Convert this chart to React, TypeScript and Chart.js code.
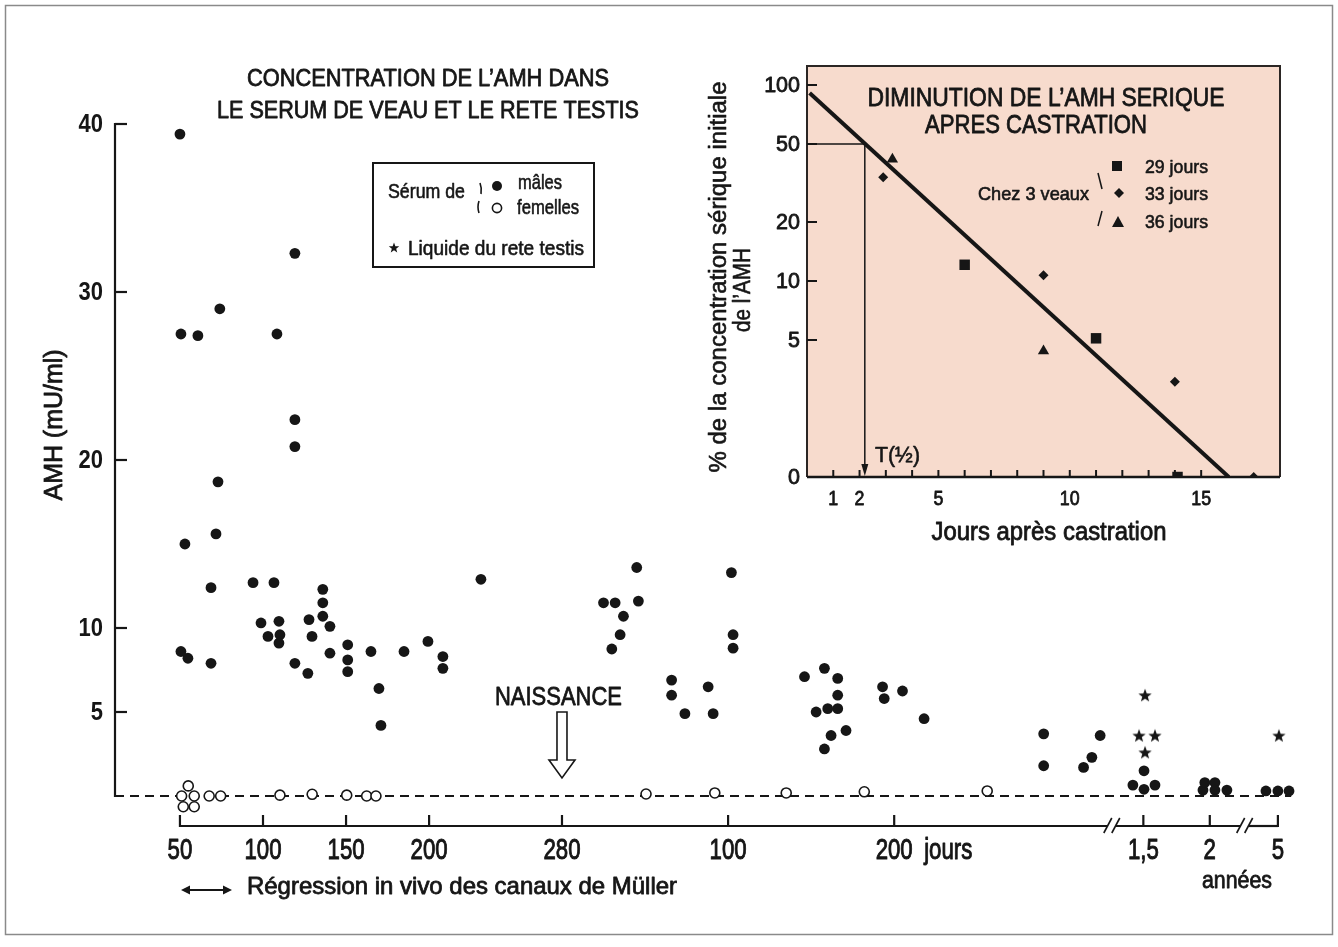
import React, { useEffect, useRef } from 'react';
import { Chart, registerables } from 'chart.js';

Chart.register(...registerables);

const INK = '#161616';
const FONT = '"Liberation Sans", Arial, Helvetica, sans-serif';

// ---------------- main chart data ----------------
const GESTATION_DAYS = 280;
// male foetal serum: [gestational day, AMH mU/ml]
const fetalMale: [number, number][] = [
  [50, 39.4], [50.6, 27.5], [60.8, 27.4], [74, 29.0], [108.4, 27.5], [119.2, 32.3], [119.2, 22.4],
  [119.2, 20.8], [72.9, 18.7], [71.7, 15.6], [53, 15.0], [68.7, 12.4], [50.6, 8.6], [54.8, 8.2],
  [68.7, 7.9], [94, 12.7], [98.8, 10.3], [103, 9.5], [106.6, 12.7], [109.6, 10.4], [110.2, 9.6],
  [109.6, 9.1], [119.2, 7.9], [127.7, 10.5], [129.5, 9.5], [127, 7.3], [136, 12.3], [136, 11.5],
  [136, 10.7], [140.3, 10.1], [140.3, 8.5], [151, 9.0], [151, 8.1], [151, 7.4], [165, 8.6],
  [169.8, 6.4], [171, 4.2], [184.9, 8.6], [199.3, 9.2], [208.3, 8.3], [208.3, 7.6], [231.2, 12.9],
];
// male calves: [postnatal day, AMH]
const calfMale: [number, number][] = [
  [25, 11.5], [32, 11.5], [45, 13.6], [46, 11.6], [37, 10.7], [35, 9.6], [30, 8.75], [66, 6.9],
  [66, 6.0], [74, 4.9], [88, 6.5], [91, 4.9], [102, 13.3], [103, 9.6], [103, 8.8], [146, 7.1],
  [158, 7.6], [166, 7.0], [166, 6.0], [166, 5.2], [160, 5.2], [153, 5.0], [162, 3.6], [158, 2.8],
  [171, 3.9], [193, 6.5], [194, 5.8], [205, 6.25], [218, 4.6], [290, 3.7], [290, 1.8], [314, 1.7],
  [319, 2.3], [324, 3.6],
];
// adult males, beyond the axis break: [axis position, AMH]
const adultMale: [number, number][] = [
  [630.4, 1.5], [623.7, 0.65], [630.4, 0.4], [637, 0.65], [665.9, 0.35], [667, 0.8], [673.1, 0.8],
  [673.1, 0.35], [680.3, 0.35], [703.8, 0.3], [711, 0.3], [717.7, 0.3],
];
// rete testis fluid: [axis position, AMH]
const reteTestis: [number, number][] = [[631, 6.0], [627.4, 3.6], [637, 3.6], [631, 2.6], [711.6, 3.6]];
// female foetal serum: [gestational day, AMH]
const fetalFemale: [number, number][] = [
  [55, 0.6], [51, 0], [58.6, 0], [52, -0.64], [58.6, -0.64], [67.6, 0], [74.5, 0], [110.2, 0.05],
  [129.6, 0.1], [150.4, 0.05], [162.4, 0], [168, 0],
];
// female calves: [postnatal day, AMH]
const calfFemale: [number, number][] = [[50.6, 0.12], [92, 0.18], [135, 0.18], [182, 0.25], [256, 0.3]];

const yTicks = [5, 10, 20, 30, 40];
const xTickValues = [50, 100, 150, 200, 280, 380, 480, 630, 670, 711];
const xTickLabels = ['50', '100', '150', '200', '280', '100', '200', '1,5', '2', '5'];
const xBreaks = [611, 691];

// ---------------- inset data ----------------
const calf29: [number, number][] = [[6, 12.1], [11, 5.1], [14.1, 1]];
const calf33: [number, number][] = [[2.9, 33.8], [9, 10.7], [14, 3.06], [17, 1]];
const calf36: [number, number][] = [[3.25, 41.8], [9, 4.4]];
const regression: [number, number][] = [[0.1, 91], [16.05, 1]];
const halfLife: [number, number][] = [[0, 50], [2.2, 50], [2.2, 1.06]];
const insetXTicks = [1, 2, 5, 10, 15];
const insetYTicks = [1, 5, 10, 20, 50, 100];
const insetYLabels = ['0', '5', '10', '20', '50', '100'];

const W = 1338;
const H = 947;
const INSET = { left: 680, top: 50, width: 620, height: 510 };

const pts = (a: [number, number][], dx = 0) => a.map(([x, y]) => ({ x: x + dx, y }));

function starPath(ctx: CanvasRenderingContext2D, cx: number, cy: number, R: number, r: number) {
  ctx.beginPath();
  for (let i = 0; i < 10; i++) {
    const rr = i % 2 === 0 ? R : r;
    const a = -Math.PI / 2 + (i * Math.PI) / 5;
    const px = cx + rr * Math.cos(a);
    const py = cy + rr * Math.sin(a);
    if (i === 0) ctx.moveTo(px, py);
    else ctx.lineTo(px, py);
  }
  ctx.closePath();
}

type TOpts = {
  w?: number; sx?: number; align?: 'left' | 'center' | 'right'; bold?: boolean;
  baseline?: CanvasTextBaseline; thick?: number;
};

// text drawn in a Helvetica-like face, condensed horizontally to match the original lettering
function ftext(ctx: CanvasRenderingContext2D, s: string, x: number, y: number, size: number, o: TOpts = {}) {
  ctx.save();
  ctx.font = `${o.bold ? 'bold ' : ''}${size}px ${FONT}`;
  ctx.textAlign = 'left';
  ctx.textBaseline = o.baseline ?? 'alphabetic';
  const nat = ctx.measureText(s).width;
  const sx = o.w ? o.w / nat : o.sx ?? 1;
  const width = nat * sx;
  const left = o.align === 'center' ? x - width / 2 : o.align === 'right' ? x - width : x;
  ctx.translate(left, y);
  ctx.scale(sx, 1);
  ctx.fillStyle = INK;
  ctx.fillText(s, 0, 0);
  const thick = o.thick ?? 0.6;
  if (thick > 0) {
    ctx.strokeStyle = INK;
    ctx.lineWidth = thick;
    ctx.lineJoin = 'round';
    ctx.strokeText(s, 0, 0);
  }
  ctx.restore();
}

function seg(ctx: CanvasRenderingContext2D, x1: number, y1: number, x2: number, y2: number) {
  ctx.beginPath();
  ctx.moveTo(x1, y1);
  ctx.lineTo(x2, y2);
  ctx.stroke();
}

const mainDeco = {
  id: 'mainDeco',
  afterDraw(chart: any) {
    const { ctx, chartArea: ca } = chart;
    const xs = chart.scales.x;
    const ys = chart.scales.y;
    ctx.save();
    ctx.strokeStyle = INK;
    ctx.fillStyle = INK;
    ctx.lineWidth = 2.2;

    // y axis with inward ticks and labels
    const ax = ca.left;
    seg(ctx, ax, ys.getPixelForValue(40) - 1, ax, ys.getPixelForValue(0) + 1);
    ys.ticks.forEach((t: any) => {
      const py = ys.getPixelForValue(t.value);
      seg(ctx, ax, py, ax + 12, py);
      ftext(ctx, String(t.value), ax - 12, py + 1, 25, { bold: true, sx: 0.88, align: 'right', baseline: 'middle', thick: 0 });
    });

    // x axis with breaks, upward ticks and labels
    const by = ca.bottom;
    const xStart = xs.getPixelForValue(xTickValues[0]);
    const xEnd = xs.getPixelForValue(xTickValues[xTickValues.length - 1]);
    const gaps = xBreaks.map((b) => xs.getPixelForValue(b));
    let cur = xStart;
    gaps.forEach((g) => {
      seg(ctx, cur, by, g - 4, by);
      cur = g + 4;
    });
    seg(ctx, cur, by, xEnd, by);
    xs.ticks.forEach((t: any, i: number) => {
      const px = xs.getPixelForValue(t.value);
      seg(ctx, px, by + 1, px, by - 11);
      ftext(ctx, xTickLabels[i], px, 859, 30, { sx: 0.74, align: 'center', thick: 1 });
    });
    ctx.lineWidth = 1.6;
    gaps.forEach((g) => {
      [-4, 4].forEach((o) => seg(ctx, g + o - 4, by + 7, g + o + 4, by - 8));
    });
    ftext(ctx, 'jours', xs.getPixelForValue(480) + 30, 859, 30, { sx: 0.74, thick: 1 });
    ftext(ctx, 'années', 1237, 888, 23, { w: 70, align: 'center', thick: 0.8 });

    // regression note
    ctx.lineWidth = 2;
    const ay = 890;
    seg(ctx, 186, ay, 227, ay);
    ctx.beginPath();
    ctx.moveTo(181, ay); ctx.lineTo(190, ay - 4.5); ctx.lineTo(190, ay + 4.5); ctx.closePath(); ctx.fill();
    ctx.beginPath();
    ctx.moveTo(232, ay); ctx.lineTo(223, ay - 4.5); ctx.lineTo(223, ay + 4.5); ctx.closePath(); ctx.fill();
    ftext(ctx, 'Régression in vivo des canaux de Müller', 247, 894, 24, { w: 430, thick: 0.8 });

    // title
    ftext(ctx, 'CONCENTRATION DE L’AMH DANS', 428, 86, 24.5, { w: 362, align: 'center', thick: 0.8 });
    ftext(ctx, 'LE SERUM DE VEAU ET LE RETE TESTIS', 428, 118, 24.5, { w: 422, align: 'center', thick: 0.8 });

    // y title
    ctx.save();
    ctx.translate(55, 425);
    ctx.rotate(-Math.PI / 2);
    ftext(ctx, 'AMH (mU/ml)', 0, 0, 25, { w: 151, align: 'center', baseline: 'middle', thick: 0.8 });
    ctx.restore();

    // legend box
    ctx.lineWidth = 2;
    ctx.strokeRect(373, 163, 221, 104);
    ftext(ctx, 'Sérum de', 388, 198, 21, { w: 77 });
    ctx.lineWidth = 1.6;
    ctx.beginPath(); ctx.moveTo(480, 183); ctx.quadraticCurveTo(482, 188, 481, 194); ctx.stroke();
    ctx.beginPath(); ctx.moveTo(479, 201); ctx.quadraticCurveTo(477, 207, 479, 213); ctx.stroke();
    ctx.beginPath(); ctx.arc(497, 186, 5, 0, Math.PI * 2); ctx.fill();
    ctx.beginPath(); ctx.arc(497, 208, 4.6, 0, Math.PI * 2); ctx.stroke();
    ftext(ctx, 'mâles', 518, 189, 21, { w: 44 });
    ftext(ctx, 'femelles', 517, 214, 21, { w: 62 });
    starPath(ctx, 394, 248, 5.5, 2.3);
    ctx.fill();
    ftext(ctx, 'Liquide du rete testis', 408, 255, 21, { w: 176 });

    // birth marker
    const bx = xs.getPixelForValue(GESTATION_DAYS);
    ftext(ctx, 'NAISSANCE', bx - 3.5, 705, 26.5, { w: 127, align: 'center', thick: 0.8 });
    ctx.fillStyle = '#ffffff';
    ctx.strokeStyle = INK;
    ctx.lineWidth = 1.6;
    ctx.beginPath();
    ctx.moveTo(bx - 5, 712); ctx.lineTo(bx + 5, 712); ctx.lineTo(bx + 5, 760); ctx.lineTo(bx + 13, 760);
    ctx.lineTo(bx, 778); ctx.lineTo(bx - 13, 760); ctx.lineTo(bx - 5, 760); ctx.closePath();
    ctx.fill(); ctx.stroke();

    // outer frame
    ctx.strokeStyle = '#8a8a8a';
    ctx.lineWidth = 1.5;
    ctx.strokeRect(5.5, 5.5, 1327, 929);
    ctx.restore();
  },
};

const insetDeco = {
  id: 'insetDeco',
  beforeDraw(chart: any) {
    const { ctx, chartArea: ca } = chart;
    ctx.save();
    ctx.fillStyle = '#f7dbcd';
    ctx.fillRect(ca.left, ca.top, ca.right - ca.left, ca.bottom - ca.top);
    ctx.restore();
  },
  afterDraw(chart: any) {
    const { ctx, chartArea: ca } = chart;
    const xs = chart.scales.x;
    const ys = chart.scales.y;
    ctx.save();
    ctx.strokeStyle = '#2b2624';
    ctx.lineWidth = 2;
    ctx.beginPath();
    ctx.moveTo(ca.left, ca.bottom); ctx.lineTo(ca.left, ca.top); ctx.lineTo(ca.right, ca.top); ctx.lineTo(ca.right, ca.bottom);
    ctx.stroke();
    ctx.strokeStyle = INK;
    ctx.fillStyle = INK;
    ctx.lineWidth = 2.5;
    seg(ctx, ca.left, ca.bottom, ca.right, ca.bottom);
    ctx.lineWidth = 2;
    for (let d = 1; d <= 15; d++) {
      const px = xs.getPixelForValue(d);
      seg(ctx, px, ca.bottom, px, ca.bottom - 7);
    }
    xs.ticks.forEach((t: any) => {
      ftext(ctx, String(t.value), xs.getPixelForValue(t.value), ca.bottom + 28, 21, { sx: 0.85, align: 'center', thick: 0.8 });
    });
    ys.ticks.forEach((t: any, i: number) => {
      const py = ys.getPixelForValue(t.value);
      if (i > 0) seg(ctx, ca.left, py, ca.left + 10, py);
      ftext(ctx, insetYLabels[i], ca.left - 7, py + 1, 21.5, { align: 'right', baseline: 'middle', thick: 0.8 });
    });

    // arrow head on the half-life line
    const hx = xs.getPixelForValue(halfLife[1][0]);
    ctx.beginPath();
    ctx.moveTo(hx, ca.bottom - 1); ctx.lineTo(hx - 3.5, ca.bottom - 13); ctx.lineTo(hx + 3.5, ca.bottom - 13); ctx.closePath();
    ctx.fill();

    // page coordinates from here
    ctx.translate(-INSET.left, -INSET.top);
    ftext(ctx, 'T(½)', 875, 462, 22, { w: 45 });
    ftext(ctx, 'DIMINUTION DE L’AMH SERIQUE', 1046, 106, 26.5, { w: 357, align: 'center', thick: 0.8 });
    ftext(ctx, 'APRES CASTRATION', 1036, 133, 26.5, { w: 222, align: 'center', thick: 0.8 });
    ftext(ctx, 'Jours après castration', 1049, 540, 25, { w: 235, align: 'center', thick: 0.8 });

    // legend
    ctx.fillRect(1112, 161, 10, 10);
    ctx.beginPath();
    ctx.moveTo(1119, 188); ctx.lineTo(1124, 193); ctx.lineTo(1119, 198); ctx.lineTo(1114, 193); ctx.closePath(); ctx.fill();
    ctx.beginPath();
    ctx.moveTo(1118, 216); ctx.lineTo(1124, 227); ctx.lineTo(1112, 227); ctx.closePath(); ctx.fill();
    ftext(ctx, '29 jours', 1145, 173, 19, { w: 63 });
    ftext(ctx, '33 jours', 1145, 200, 19, { w: 63 });
    ftext(ctx, '36 jours', 1145, 228, 19, { w: 63 });
    ftext(ctx, 'Chez 3 veaux', 1089, 200, 19, { w: 111, align: 'right' });
    ctx.lineWidth = 1.5;
    seg(ctx, 1098, 173, 1102, 189);
    seg(ctx, 1102, 211, 1098, 226);

    // y title (two rotated lines)
    ctx.save();
    ctx.translate(720, 277);
    ctx.rotate(-Math.PI / 2);
    ftext(ctx, '% de la concentration sérique initiale', 0, 0, 23, { w: 391, align: 'center', baseline: 'middle' });
    ctx.restore();
    ctx.save();
    ctx.translate(744, 290);
    ctx.rotate(-Math.PI / 2);
    ftext(ctx, 'de l’AMH', 0, 0, 23, { sx: 0.9, align: 'center', baseline: 'middle' });
    ctx.restore();
    ctx.restore();
  },
};

export default function App() {
  const mainRef = useRef<HTMLCanvasElement>(null);
  const insetRef = useRef<HTMLCanvasElement>(null);

  useEffect(() => {
    const star = document.createElement('canvas');
    star.width = 16;
    star.height = 16;
    const sctx = star.getContext('2d')!;
    sctx.fillStyle = INK;
    starPath(sctx, 8, 8.6, 7, 2.9);
    sctx.fill();

    const hidden = { display: false };
    const main = new Chart(mainRef.current!, {
      type: 'scatter',
      data: {
        datasets: [
          {
            type: 'line',
            data: [{ x: 10.9, y: 0 }, { x: 719, y: 0 }],
            borderColor: INK,
            borderWidth: 2,
            borderDash: [9, 6],
            pointRadius: 0,
            order: 5,
          } as any,
          {
            data: [...pts(fetalFemale), ...pts(calfFemale, GESTATION_DAYS)],
            pointStyle: 'circle',
            pointRadius: 5,
            backgroundColor: '#ffffff',
            borderColor: INK,
            borderWidth: 1.6,
            order: 3,
          },
          {
            data: [...pts(fetalMale), ...pts(calfMale, GESTATION_DAYS), ...pts(adultMale)],
            pointStyle: 'circle',
            pointRadius: 5.4,
            backgroundColor: INK,
            borderWidth: 0,
            order: 2,
          },
          {
            data: pts(reteTestis),
            pointStyle: star as any,
            order: 1,
          },
        ],
      },
      options: {
        animation: false,
        responsive: false,
        maintainAspectRatio: false,
        events: [],
        layout: { padding: { left: 0, top: 124, right: 43, bottom: 61 } },
        plugins: { legend: { display: false }, tooltip: { enabled: false } },
        scales: {
          x: {
            type: 'linear',
            min: 10.9,
            max: 721.3,
            afterBuildTicks: (s: any) => { s.ticks = xTickValues.map((value) => ({ value })); },
            afterFit: (s: any) => { s.height = 60; },
            grid: { display: false, drawTicks: false },
            border: { display: false },
            ticks: hidden,
          },
          y: {
            type: 'linear',
            min: -1.786,
            max: 40,
            afterBuildTicks: (s: any) => { s.ticks = yTicks.map((value) => ({ value })); },
            afterFit: (s: any) => { s.width = 115; },
            grid: { display: false, drawTicks: false },
            border: { display: false },
            ticks: hidden,
          },
        },
      } as any,
      plugins: [mainDeco],
    });

    const inset = new Chart(insetRef.current!, {
      type: 'scatter',
      data: {
        datasets: [
          {
            type: 'line',
            data: pts(regression),
            borderColor: INK,
            borderWidth: 4,
            pointRadius: 0,
            order: 5,
          } as any,
          {
            type: 'line',
            data: pts(halfLife),
            borderColor: INK,
            borderWidth: 1.5,
            pointRadius: 0,
            order: 6,
          } as any,
          { data: pts(calf29), pointStyle: 'rect', pointRadius: 7.4, backgroundColor: INK, borderWidth: 0, order: 1 },
          { data: pts(calf33), pointStyle: 'rectRot', pointRadius: 5, backgroundColor: INK, borderWidth: 0, order: 1 },
          { data: pts(calf36), pointStyle: 'triangle', pointRadius: 6.5, backgroundColor: INK, borderWidth: 0, order: 1 },
        ],
      },
      options: {
        animation: false,
        responsive: false,
        maintainAspectRatio: false,
        events: [],
        layout: { padding: { left: 0, top: 16, right: 20, bottom: 0 } },
        plugins: { legend: { display: false }, tooltip: { enabled: false } },
        scales: {
          x: {
            type: 'linear',
            min: 0,
            max: 18,
            afterBuildTicks: (s: any) => { s.ticks = insetXTicks.map((value) => ({ value })); },
            afterFit: (s: any) => { s.height = 83; },
            grid: { display: false, drawTicks: false },
            border: { display: false },
            ticks: hidden,
          },
          y: {
            type: 'logarithmic',
            min: 1,
            max: 125,
            afterBuildTicks: (s: any) => { s.ticks = insetYTicks.map((value) => ({ value })); },
            afterFit: (s: any) => { s.width = 127; },
            grid: { display: false, drawTicks: false },
            border: { display: false },
            ticks: hidden,
          },
        },
      } as any,
      plugins: [insetDeco],
    });

    return () => {
      main.destroy();
      inset.destroy();
    };
  }, []);

  return (
    <div style={{ position: 'absolute', left: 0, top: 0, width: W, height: H, background: '#ffffff' }}>
      <canvas ref={mainRef} width={W} height={H} style={{ position: 'absolute', left: 0, top: 0, width: W, height: H }} />
      <canvas
        ref={insetRef}
        width={INSET.width}
        height={INSET.height}
        style={{ position: 'absolute', left: INSET.left, top: INSET.top, width: INSET.width, height: INSET.height }}
      />
    </div>
  );
}
